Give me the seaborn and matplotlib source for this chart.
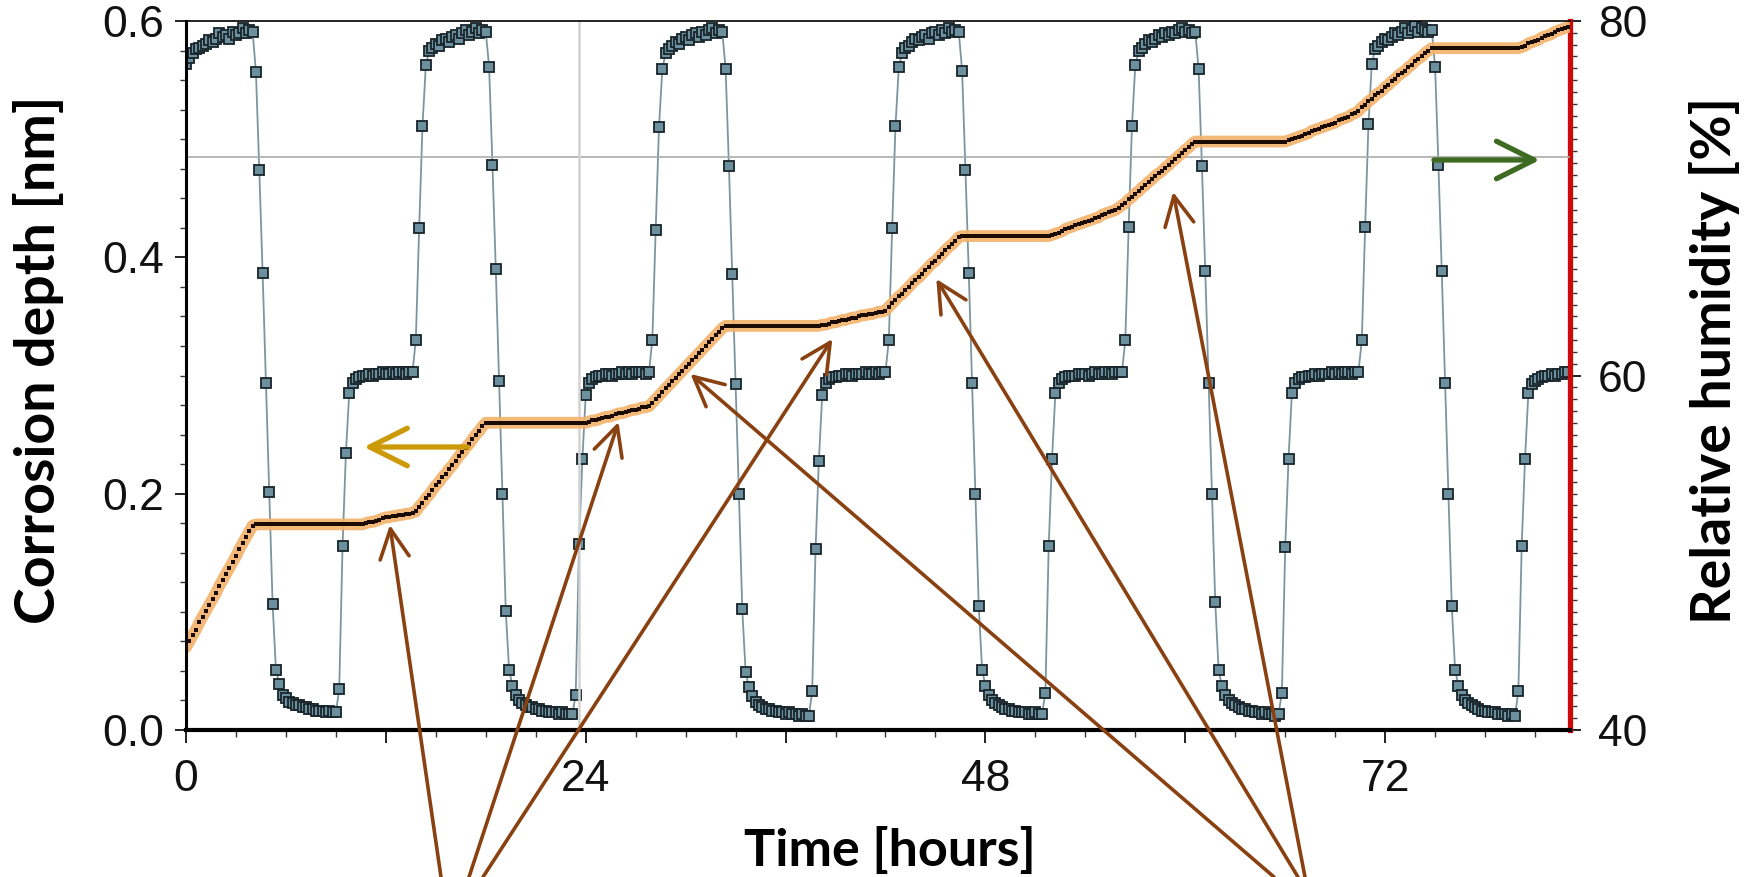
import numpy as np
import pandas as pd
import matplotlib
matplotlib.use("Agg")
import matplotlib.pyplot as plt
import seaborn as sns
from matplotlib.ticker import MultipleLocator, FuncFormatter, FixedLocator
from matplotlib.patches import FancyArrowPatch

# ---------------- data ----------------
# samples every 0.2 h
time_step_h = 0.2

# Relative humidity [%] (right axis), split per cycle
rh_c0 = [77.6, 77.9, 78.2, 78.4, 78.5, 78.6, 78.7, 78.9, 78.8, 79.0, 79.3, 79.1, 79.2, 79.0, 79.4, 79.2, 79.3, 79.6, 79.3, 79.5, 79.4]
rh_c1 = [77.1, 71.6, 65.8, 59.6, 53.4, 47.1, 43.4,
         42.6, 42.0, 41.8, 41.6, 41.5, 41.4, 41.4, 41.3, 41.3, 41.2, 41.2, 41.1, 41.1, 41.1, 41.0, 41.1, 41.0, 41.0,
         42.3, 50.4, 55.6, 59.0,
         59.6, 59.8, 59.9, 60.0, 60.0, 60.1, 60.0, 60.1, 60.1, 60.2, 60.1, 60.1, 60.2, 60.1, 60.2, 60.2, 60.1, 60.2, 60.2,
         62.0, 68.3, 74.1, 77.5, 78.3,
         78.5, 78.7, 78.6, 78.9, 79.0, 78.8, 79.1, 79.2, 79.0, 79.3, 79.5, 79.2, 79.4, 79.6, 79.3, 79.5, 79.4]
rh_c2 = [77.4, 71.9, 66.0, 59.7, 53.3, 46.7, 43.4,
         42.5, 42.0, 41.7, 41.5, 41.4, 41.3, 41.3, 41.2, 41.2, 41.1, 41.1, 41.0, 41.0, 41.0, 40.9, 41.0, 40.9, 40.9, 40.9,
         42.0, 50.5, 55.3, 58.9,
         59.6, 59.8, 59.9, 60.0, 60.0, 60.1, 60.1, 60.0, 60.1, 60.1, 60.2, 60.1, 60.2, 60.1, 60.2, 60.2, 60.2, 60.1, 60.2,
         62.0, 68.2, 74.0, 77.3, 78.2,
         78.4, 78.6, 78.8, 78.7, 79.0, 79.1, 78.9, 79.2, 79.3, 79.1, 79.4, 79.2, 79.5, 79.6, 79.3, 79.5, 79.4]
rh_c3 = [77.3, 71.8, 65.7, 59.5, 53.3, 46.8, 43.3,
         42.4, 41.9, 41.6, 41.4, 41.3, 41.2, 41.2, 41.1, 41.1, 41.0, 41.0, 40.9, 41.0, 40.9, 40.9, 40.8, 40.9, 40.8, 40.8,
         42.2, 50.2, 55.2, 58.9,
         59.6, 59.8, 59.9, 59.9, 60.0, 60.0, 60.1, 60.1, 60.0, 60.1, 60.1, 60.1, 60.2, 60.1, 60.1, 60.2, 60.1, 60.2, 60.2,
         62.0, 68.3, 74.1, 77.4, 78.2,
         78.5, 78.6, 78.8, 79.0, 78.9, 79.1, 79.2, 79.0, 79.3, 79.4, 79.2, 79.5, 79.3, 79.6, 79.4, 79.5, 79.4]
rh_c4 = [77.2, 71.6, 65.8, 59.6, 53.3, 47.0, 43.4,
         42.5, 42.0, 41.7, 41.5, 41.4, 41.3, 41.2, 41.2, 41.1, 41.1, 41.0, 41.0, 41.0, 40.9, 40.9, 41.0, 40.9, 40.9,
         42.1, 50.4, 55.3, 59.0,
         59.6, 59.8, 59.9, 60.0, 60.0, 60.0, 60.1, 60.1, 60.1, 60.0, 60.1, 60.2, 60.1, 60.1, 60.2, 60.2, 60.1, 60.2, 60.2, 60.2,
         62.0, 68.4, 74.1, 77.5, 78.3,
         78.5, 78.7, 78.9, 78.8, 79.0, 79.2, 79.1, 79.3, 79.2, 79.4, 79.3, 79.5, 79.6, 79.4, 79.5, 79.3, 79.4]
rh_c5 = [77.3, 71.8, 65.9, 59.6, 53.3, 47.2, 43.4,
         42.5, 42.0, 41.7, 41.5, 41.4, 41.3, 41.2, 41.2, 41.1, 41.1, 41.0, 41.0, 40.9, 41.0, 40.9, 40.9, 40.8, 40.9,
         42.1, 50.3, 55.3, 59.0,
         59.6, 59.8, 59.9, 59.9, 60.0, 60.0, 60.1, 60.0, 60.1, 60.1, 60.1, 60.2, 60.1, 60.2, 60.1, 60.2, 60.2, 60.1, 60.2, 60.2,
         62.0, 68.4, 74.2, 77.6, 78.4,
         78.6, 78.8, 79.0, 78.9, 79.1, 79.3, 79.2, 79.4, 79.6, 79.3, 79.5, 79.7, 79.4, 79.6, 79.5, 79.4, 79.5]
rh_c6 = [77.4, 71.9, 65.9, 59.6, 53.3, 47.0, 43.4,
         42.5, 42.0, 41.7, 41.5, 41.4, 41.3, 41.2, 41.1, 41.1, 41.0, 41.0, 41.0, 40.9, 40.9, 40.9, 40.8, 40.9, 40.8,
         42.2, 50.4, 55.3, 59.0,
         59.5, 59.7, 59.8, 59.9, 60.0, 60.0, 60.1, 60.0, 60.1, 60.1, 60.2, 60.2]

# Corrosion depth [nm] (left axis), split per cycle
depth_c1 = [0.070, 0.075, 0.080, 0.085, 0.091, 0.096, 0.101, 0.106, 0.111, 0.116, 0.122, 0.127, 0.132, 0.137, 0.142,
            0.147, 0.153, 0.158, 0.163, 0.168, 0.173,
            0.174, 0.174, 0.174, 0.174, 0.174, 0.174, 0.174, 0.174, 0.174, 0.174, 0.174, 0.174, 0.174, 0.174, 0.174,
            0.174, 0.174, 0.174, 0.174, 0.174, 0.174, 0.174, 0.174, 0.174, 0.174, 0.174, 0.174, 0.174, 0.174, 0.174,
            0.174, 0.174, 0.174,
            0.175, 0.176, 0.176, 0.177, 0.178, 0.179, 0.180, 0.180, 0.181, 0.181, 0.182, 0.182, 0.183, 0.183, 0.184, 0.185]
depth_c2 = [0.189, 0.192, 0.196, 0.199, 0.203, 0.207, 0.210, 0.214, 0.217, 0.221, 0.224, 0.228, 0.232, 0.235, 0.239,
            0.242, 0.246, 0.250, 0.253, 0.257, 0.260,
            0.260, 0.260, 0.260, 0.260, 0.260, 0.260, 0.260, 0.260, 0.260, 0.260, 0.260, 0.260, 0.260, 0.260, 0.260,
            0.260, 0.260, 0.260, 0.260, 0.260, 0.260, 0.260, 0.260, 0.260, 0.260, 0.260, 0.260, 0.260, 0.260, 0.260,
            0.261, 0.262, 0.262, 0.263, 0.264, 0.265, 0.265, 0.266, 0.267, 0.268, 0.268, 0.269, 0.270, 0.271, 0.271,
            0.272, 0.273, 0.273, 0.274]
depth_c3 = [0.277, 0.280, 0.283, 0.286, 0.289, 0.292, 0.295, 0.298, 0.301, 0.304, 0.307, 0.310, 0.313, 0.316, 0.319,
            0.322, 0.325, 0.328, 0.331, 0.334, 0.337, 0.340, 0.342,
            0.342, 0.342, 0.342, 0.342, 0.342, 0.342, 0.342, 0.342, 0.342, 0.342, 0.342, 0.342, 0.342, 0.342, 0.342,
            0.342, 0.342, 0.342, 0.342, 0.342, 0.342, 0.342, 0.342, 0.342, 0.342, 0.342, 0.342, 0.342,
            0.343, 0.343, 0.344, 0.345, 0.345, 0.346, 0.347, 0.347, 0.348, 0.349, 0.349, 0.350, 0.351, 0.351, 0.352,
            0.352, 0.353, 0.354, 0.354, 0.355]
depth_c4 = [0.358, 0.361, 0.364, 0.367, 0.369, 0.372, 0.375, 0.378, 0.381, 0.383, 0.386, 0.389, 0.392, 0.395, 0.397,
            0.400, 0.403, 0.406, 0.409, 0.411, 0.414, 0.417,
            0.418, 0.418, 0.418, 0.418, 0.418, 0.418, 0.418, 0.418, 0.418, 0.418, 0.418, 0.418, 0.418, 0.418, 0.418,
            0.418, 0.418, 0.418, 0.418, 0.418, 0.418, 0.418, 0.418, 0.418, 0.418, 0.418, 0.418,
            0.419, 0.420, 0.421, 0.422, 0.424, 0.425, 0.426, 0.427, 0.428, 0.429, 0.430, 0.431, 0.432, 0.433, 0.434,
            0.436, 0.437, 0.438, 0.439, 0.440, 0.442]
depth_c5 = [0.444, 0.446, 0.449, 0.451, 0.454, 0.456, 0.459, 0.461, 0.464, 0.466, 0.469, 0.471, 0.473, 0.476, 0.478,
            0.481, 0.483, 0.486, 0.488, 0.491, 0.493, 0.496, 0.498,
            0.498, 0.498, 0.498, 0.498, 0.498, 0.498, 0.498, 0.498, 0.498, 0.498, 0.498, 0.498, 0.498, 0.498, 0.498,
            0.498, 0.498, 0.498, 0.498, 0.498, 0.498, 0.498, 0.498, 0.498, 0.498, 0.498, 0.498,
            0.499, 0.500, 0.501, 0.502, 0.503, 0.504, 0.505, 0.507, 0.508, 0.509, 0.510, 0.511, 0.512, 0.513, 0.514,
            0.516, 0.517, 0.518, 0.519, 0.521, 0.522, 0.524]
depth_c6 = [0.527, 0.529, 0.532, 0.534, 0.537, 0.539, 0.541, 0.544, 0.546, 0.549, 0.551, 0.554, 0.556, 0.558, 0.561,
            0.563, 0.566, 0.568, 0.570, 0.573, 0.575, 0.577,
            0.577, 0.577, 0.577, 0.577, 0.577, 0.577, 0.577, 0.577, 0.577, 0.577, 0.577, 0.577, 0.577, 0.577, 0.577,
            0.577, 0.577, 0.577, 0.577, 0.577, 0.577, 0.577, 0.577, 0.577, 0.577, 0.577,
            0.578, 0.579, 0.581, 0.582, 0.583, 0.584, 0.586, 0.587, 0.588, 0.589, 0.591, 0.592, 0.593, 0.594, 0.595]

x_tick_labels = {0: "0", 24: "24", 48: "48", 72: "72"}
left_ticks = [0.0, 0.2, 0.4, 0.6]
right_ticks = [40, 60, 80]

# annotation arrows: heads in data coords (time, depth), tails in figure pixels
brown_heads = [(12.24, 0.1735), (25.97, 0.2606), (38.81, 0.3309),
               (30.29, 0.3013), (45.05, 0.3817), (59.27, 0.4553)]
brown_tails_px = [441, 469, 483, 1274, 1298, 1305]
gold_arrow = ((16.92, 0.2395), (10.68, 0.2395))
green_arrow = ((74.93, 0.4824), (81.29, 0.4824))

# ---------------- build ----------------
rh = rh_c0 + rh_c1 + rh_c2 + rh_c3 + rh_c4 + rh_c5 + rh_c6
depth = depth_c1 + depth_c2 + depth_c3 + depth_c4 + depth_c5 + depth_c6
n = min(len(rh), len(depth))
time_h = np.arange(n) * time_step_h
df = pd.DataFrame({"time": time_h, "rh": rh[:n], "depth": depth[:n]})

sns.set_theme(style="ticks")
plt.rcParams["font.family"] = ["Liberation Sans", "DejaVu Sans"]

W, H = 1752, 877
fig = plt.figure(figsize=(W / 100, H / 100), dpi=100)
fig.patch.set_facecolor("white")
L, R, T, B = 186, 1570, 21, 730
ax = fig.add_axes([L / W, 1 - B / H, (R - L) / W, (B - T) / H])
ax2 = ax.twinx()
ax.set_zorder(ax2.get_zorder() + 1)
ax.patch.set_visible(False)

# reference lines
ax.axhline(0.485, color="#ABABAB", lw=1.2, zorder=0)
ax.axvline(23.6, color="#D2D2D2", lw=1.8, zorder=0)

# humidity
sns.lineplot(data=df, x="time", y="rh", ax=ax2, color="#7D959F", lw=1.3,
             marker="s", markersize=7.0, markerfacecolor="#6C909D",
             markeredgecolor="#18242A", markeredgewidth=1.3, estimator=None, legend=False)

# corrosion depth
sns.lineplot(data=df, x="time", y="depth", ax=ax, color="#F2B26A", lw=8.5, alpha=0.9,
             estimator=None, legend=False, solid_capstyle="round")
sns.scatterplot(data=df, x="time", y="depth", ax=ax, marker="s", s=11, color="#1A0C05",
                linewidth=0, legend=False, zorder=5)

# limits & ticks
ax.set_xlim(0, 83.1)
ax.set_ylim(0, 0.6)
ax2.set_ylim(40, 80)

ax.xaxis.set_major_locator(MultipleLocator(12))
ax.xaxis.set_minor_locator(MultipleLocator(3))
ax.xaxis.set_major_formatter(FuncFormatter(lambda v, p: x_tick_labels.get(int(round(v)), "")))
ax.yaxis.set_major_locator(FixedLocator(left_ticks))
ax.yaxis.set_minor_locator(MultipleLocator(0.025))
ax.yaxis.set_major_formatter(FuncFormatter(lambda v, p: f"{v:.1f}"))
ax2.yaxis.set_major_locator(FixedLocator(right_ticks))
ax2.yaxis.set_minor_locator(MultipleLocator(2 / 3))

ax.tick_params(axis="x", which="major", length=9, width=1.3, direction="out", labelsize=32, pad=12, colors="#111111")
ax.tick_params(axis="x", which="minor", length=5, width=1.0, direction="out", color="#333333")
ax.tick_params(axis="y", which="major", length=8, width=1.3, direction="out", labelsize=32, pad=8, colors="#111111")
ax.tick_params(axis="y", which="minor", length=4, width=1.0, direction="out", color="#333333")
ax2.tick_params(axis="y", which="major", length=8, width=1.3, direction="out", labelsize=32, pad=12, colors="#111111")
ax2.tick_params(axis="y", which="minor", length=5, width=1.0, direction="out", color="#333333")
ax.tick_params(right=False, top=False)

# spines
ax.spines["right"].set_visible(False)
ax.spines["left"].set_linewidth(2.2)
ax.spines["bottom"].set_linewidth(3.0)
ax.spines["top"].set_linewidth(1.2)
for s in ("left", "bottom", "top"):
    ax.spines[s].set_color("black")
    ax2.spines[s].set_visible(False)
ax2.spines["right"].set_color("#CC0A0A")
ax2.spines["right"].set_linewidth(3.8)

# axis labels
lab_family = ["Lato", "DejaVu Sans"]
ax.set_xlabel("Time [hours]", va="center", fontsize=37.5, fontweight="bold", family=lab_family, color="black")
ax.set_ylabel("Corrosion depth [nm]", va="center", fontsize=40, fontweight="bold", family=lab_family, color="black")
ax2.set_ylabel("Relative humidity [%]", va="center", rotation=90, fontsize=40, fontweight="bold",
               family=lab_family, color="black")
ax.xaxis.set_label_coords((890 - L) / (R - L), (B - 851) / (B - T))
ax.yaxis.set_label_coords((39 - L) / (R - L), (B - 360) / (B - T))
ax2.yaxis.set_label_coords((1715 - L) / (R - L), (B - 360) / (B - T))

# annotation arrows (figure level, drawn on top)
inv = fig.transFigure.inverted()


def to_fig(pt):
    return inv.transform(ax.transData.transform(pt))


for (head, tx) in zip(brown_heads, brown_tails_px):
    p = FancyArrowPatch(posA=(tx / W, 0.0), posB=tuple(to_fig(head)), transform=fig.transFigure,
                        arrowstyle="->,head_length=0.7,head_width=0.35", mutation_scale=30,
                        lw=2.6, color="#8A4112", shrinkA=0, shrinkB=0, zorder=10)
    fig.add_artist(p)

for (a, b), col in ((gold_arrow, "#CC9A06"), (green_arrow, "#3F6A21")):
    p = FancyArrowPatch(posA=tuple(to_fig(a)), posB=tuple(to_fig(b)), transform=fig.transFigure,
                        arrowstyle="->,head_length=0.9,head_width=0.45", mutation_scale=30,
                        lw=3.8, color=col, shrinkA=0, shrinkB=0, zorder=10,
                        capstyle="round", joinstyle="round")
    fig.add_artist(p)

fig.savefig("out.png", dpi=100, facecolor="white")
